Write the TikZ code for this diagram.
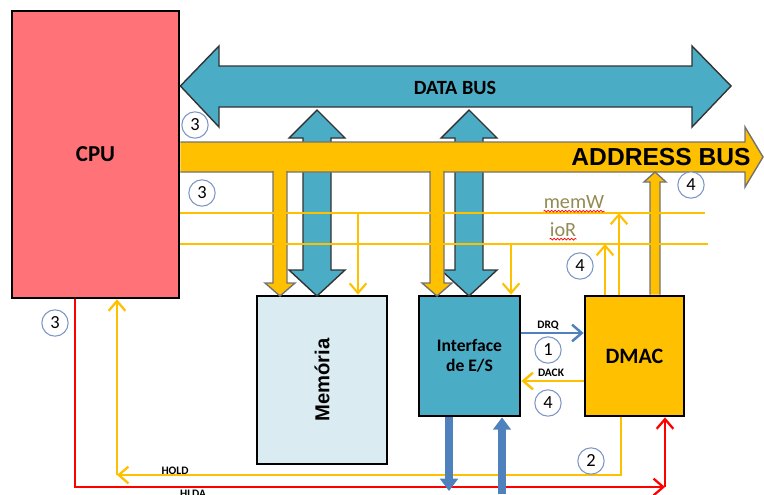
\documentclass[tikz,border=0pt]{standalone}
\usepackage{fontspec}
\setmainfont{Carlito}
\newfontfamily\arialfont{Liberation Sans}
\usetikzlibrary{arrows.meta,calc,decorations.pathmorphing}
\definecolor{cpured}{RGB}{255,115,120}
\definecolor{busblue}{RGB}{75,172,198}
\definecolor{busyellow}{RGB}{255,192,0}
\definecolor{memblue}{RGB}{218,236,242}
\definecolor{linkblue}{RGB}{79,129,189}
\definecolor{circblue}{RGB}{125,150,200}
\definecolor{olivetext}{RGB}{148,138,84}

\begin{document}
\begin{tikzpicture}[x=0.02cm,y=-0.02cm,
  unit/.style={draw,line width=1.6pt,inner sep=0pt,align=center},
  fatbus/.style={draw=black!80,line width=0.8pt,line join=miter},
  fatyel/.style={fatbus,draw=black!55,fill=busyellow},
  ctl/.style={busyellow,line width=1.5pt},
  barb/.style={-{Straight Barb[length=5.5pt,width=9.5pt]}},
  tap/.style={busyellow,line width=1.2pt,barb},
  wide/.style={linkblue,line width=4.5pt,-{Triangle[length=7pt,width=10pt]}},
  num/.style={circle,draw=circblue,fill=white,line width=0.6pt,minimum size=15pt,inner sep=0pt,font=\fontsize{10.5}{12}\selectfont},
  sig/.style={font=\bfseries\fontsize{6.5}{7}\selectfont,anchor=base},
  busname/.style={olivetext,inner sep=0pt,anchor=base,font=\fontsize{11.5}{13}\selectfont},
  spell/.style={red,line width=0.4pt,decorate,decoration={snake,amplitude=0.5pt,segment length=2pt}}]
\useasboundingbox (0,0) rectangle (764,494);

\node[unit,fill=cpured,minimum width=3.34cm,minimum height=5.74cm,font=\bfseries\fontsize{13}{15}\selectfont] (cpu) at (95.5,154.5) {CPU};
\node[unit,fill=memblue,minimum width=2.6cm,minimum height=3.36cm] (mem) at (322,380) {};
\node[rotate=90,font=\arialfont\bfseries\fontsize{11.5}{13}\selectfont] (memlabel) at (mem) {Memória};
\node[unit,fill=busblue,minimum width=2.02cm,minimum height=2.4cm,font=\bfseries\fontsize{10}{11.5}\selectfont] (ifc) at (469.5,356) {Interface\\de E/S};
\node[unit,fill=busyellow,minimum width=1.98cm,minimum height=2.4cm,font=\bfseries\fontsize{12.5}{14}\selectfont] (dmac) at (634.5,356) {DMAC};

\foreach \x in {317,469}
  \filldraw[fatbus,fill=busblue] (\x,110) -- ++(28,28) -- ++(-14,0) -- ++(0,132) -- ++(14,0) -- ++(-28,26)
    -- ++(-28,-26) -- ++(14,0) -- ++(0,-132) -- ++(-14,0) -- cycle;
\filldraw[fatbus,fill=busblue] (cpu.east |- 0,86) -- (219,46) -- (219,66) -- (692,66) -- (692,46) -- (731,86)
  -- (692,127) -- (692,107) -- (219,107) -- (219,127) -- cycle;
\node[font=\bfseries\fontsize{11.5}{13}\selectfont] (databus) at (455,88) {DATA BUS};

\filldraw[fatyel] (cpu.east |- 0,142) -- (745,142) -- (745,127) -- (763,157) -- (745,187) -- (745,172) -- (cpu.east |- 0,172);
\node[font=\arialfont\bfseries\fontsize{14}{16}\selectfont] (addrbus) at (661,157) {ADDRESS BUS};
\foreach \x in {280,437}
  \filldraw[fatyel] (\x-7,171) -- (\x-7,283) -- (\x-15,283) -- (\x,296) -- (\x+15,283) -- (\x+7,283) -- (\x+7,171);
\filldraw[fatyel] (650,0 |- dmac.north) -- (650,182) -- (644,182) -- (655,172) -- (666,182) -- (660,182) -- (660,0 |- dmac.north);

\coordinate (memWend) at (705,213);
\coordinate (ioRend) at (708,244);
\draw[ctl] (cpu.east |- memWend) -- (memWend);
\draw[ctl] (cpu.east |- ioRend) -- (ioRend);
\node[busname] (memWlabel) at (574,208) {memW};
\node[busname] (ioRlabel) at (563,236) {ioR};
\draw[spell] ([yshift=-1.8pt]memWlabel.base west) -- ([yshift=-1.8pt]memWlabel.base east);
\draw[spell] ([yshift=-1.8pt]ioRlabel.base west) -- ([yshift=-1.8pt]ioRlabel.base east);

\draw[tap] (358,213) -- (358,0 |- mem.north);
\draw[tap] (511,243) -- (511,0 |- ifc.north);
\draw[tap] (605,0 |- dmac.north) -- (605,244);
\draw[tap] (619,0 |- dmac.north) -- (619,213);

\draw[linkblue,line width=1.4pt,barb] (ifc.east |- 0,333) -- (dmac.west |- 0,333);
\node[sig] (drq) at (548,328) {DRQ};
\draw[busyellow,line width=1.4pt,barb] (dmac.west |- 0,381) -- (ifc.east |- 0,381);
\node[sig] (dack) at (551,376) {DACK};

\coordinate (holdc) at (117,475);
\draw[busyellow,line width=1.3pt,barb] (621,0 |- dmac.south) |- (holdc);
\draw[busyellow,line width=1.3pt,barb] (holdc) -- (117,0 |- cpu.south);
\node[sig] (hold) at (175,474) {HOLD};
\coordinate (hldac) at (665,487);
\draw[red,line width=1.3pt,barb] (75,0 |- cpu.south) |- (hldac);
\draw[red,line width=1.3pt,barb] (hldac) -- (665,0 |- dmac.south);
\node[sig] (hlda) at (193,497.5) {HLDA};

\coordinate (ioout) at (449,491);
\coordinate (ioin) at (502,494);
\draw[wide] (449,0 |- ifc.south) -- (ioout);
\draw[wide] (ioin) -- (502,0 |- ifc.south);

\node[num] (c3a) at (195,125) {3};
\node[num] (c3b) at (202,193) {3};
\node[num] (c3c) at (55,323) {3};
\node[num] (c4a) at (691,185) {4};
\node[num] (c4b) at (580,266) {4};
\node[num] (c1) at (548,350) {1};
\node[num] (c4c) at (548,403) {4};
\node[num] (c2) at (591,461) {2};
\end{tikzpicture}
\end{document}
